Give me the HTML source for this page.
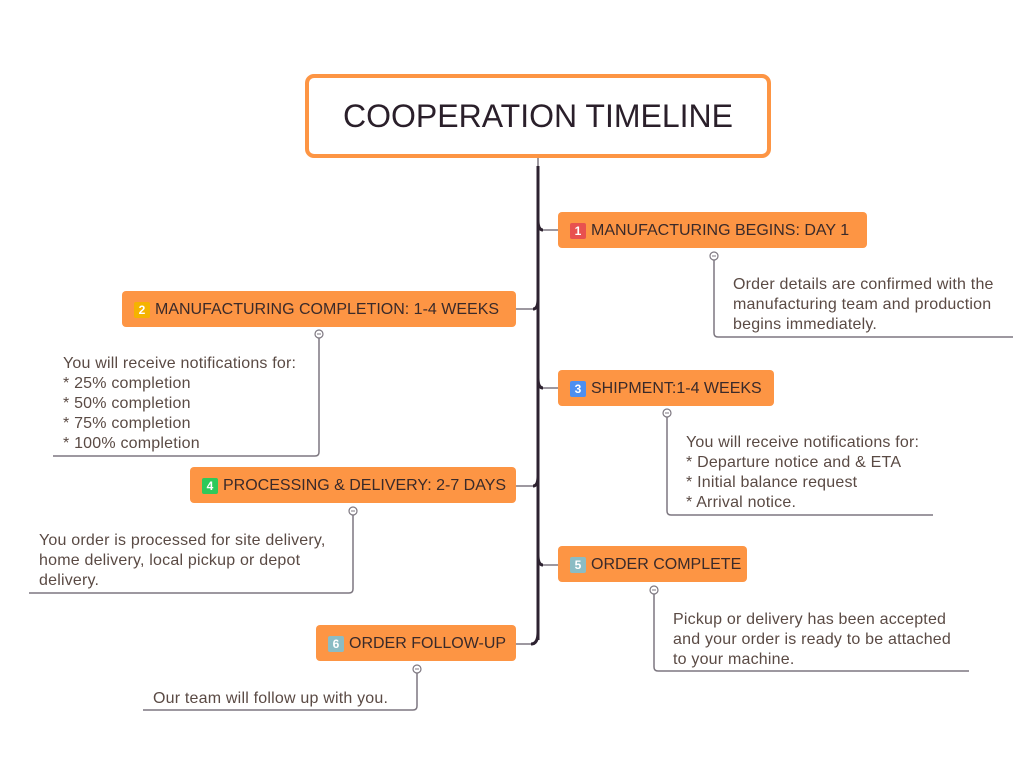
<!DOCTYPE html>
<html><head><meta charset="utf-8"><style>
body{margin:0;width:1030px;height:772px;background:#fff;position:relative;overflow:hidden;font-family:"Liberation Sans",sans-serif}
.n{position:absolute;background:#fd9544;border-radius:4px;height:36px;color:#3a2a2a;font-size:16px;white-space:nowrap;box-sizing:border-box;padding-left:12px;padding-top:2px;display:flex;align-items:center}
.b{display:inline-block;width:16px;height:16px;line-height:16px;border-radius:2px;color:#fff;font-size:12px;font-weight:bold;text-align:center;margin-right:5px}
.t{position:absolute;font-size:16px;letter-spacing:0.2px;line-height:20px;color:#5a4a44;white-space:nowrap}
</style></head><body>
<svg width="1030" height="772" style="position:absolute;left:0;top:0">
<g fill="none" stroke="#7d7780" stroke-width="1.5">
<line x1="538" y1="157" x2="538" y2="166"/>
<path d="M541 230H558M535 309H516M541 388H558M535 486H516M541 565H558M535 644H516"/>
<path d="M714 260V333q0 4 4 4H1013"/>
<path d="M319 338V452q0 4 -4 4H53"/>
<path d="M667 417V511q0 4 4 4H933"/>
<path d="M353 515V589q0 4 -4 4H29"/>
<path d="M654 594V667q0 4 4 4H969"/>
<path d="M417 673V706q0 4 -4 4H143"/>
</g>
<g fill="none" stroke="#2d2230" stroke-width="3">
<path d="M538 166V640"/>
<path d="M538 220q0 10 5 10M538 299q0 10 -5 10M538 378q0 10 5 10M538 476q0 10 -5 10M538 555q0 10 5 10M538 632q0 12 -7 12"/>
</g>
<g fill="#fff" stroke="#7d7780" stroke-width="1.2">
<circle cx="714" cy="256" r="4"/><circle cx="319" cy="334" r="4"/><circle cx="667" cy="413" r="4"/>
<circle cx="353" cy="511" r="4"/><circle cx="654" cy="590" r="4"/><circle cx="417" cy="669" r="4"/>
</g>
<g stroke="#7d7780" stroke-width="1"><path d="M712 256h4M317 334h4M665 413h4M351 511h4M652 590h4M415 669h4"/></g>
</svg>
<div style="position:absolute;left:305px;top:74px;width:466px;height:84px;box-sizing:border-box;border:4px solid #fd9544;border-radius:9px;text-align:center;line-height:76px;font-size:32px;color:#2a1f2a">COOPERATION TIMELINE</div>
<div class="n" style="left:558px;top:212px;width:309px"><span class="b" style="background:#e8514f">1</span>MANUFACTURING BEGINS: DAY 1</div>
<div class="n" style="left:122px;top:291px;width:394px"><span class="b" style="background:#f5b300">2</span>MANUFACTURING COMPLETION: 1-4 WEEKS</div>
<div class="n" style="left:558px;top:370px;width:216px"><span class="b" style="background:#4d8ff0">3</span>SHIPMENT:1-4 WEEKS</div>
<div class="n" style="left:190px;top:467px;width:326px"><span class="b" style="background:#2ec95a">4</span>PROCESSING &amp; DELIVERY: 2-7 DAYS</div>
<div class="n" style="left:558px;top:546px;width:189px"><span class="b" style="background:#8bbcc4">5</span>ORDER COMPLETE</div>
<div class="n" style="left:316px;top:625px;width:200px"><span class="b" style="background:#8bbcc4">6</span>ORDER FOLLOW-UP</div>
<div class="t" style="left:733px;top:275px">Order details are confirmed with the<br>manufacturing team and production<br>begins immediately.</div>
<div class="t" style="left:63px;top:354px">You will receive notifications for:<br>* 25% completion<br>* 50% completion<br>* 75% completion<br>* 100% completion</div>
<div class="t" style="left:686px;top:433px">You will receive notifications for:<br>* Departure notice and &amp; ETA<br>* Initial balance request<br>* Arrival notice.</div>
<div class="t" style="left:39px;top:531px">You order is processed for site delivery,<br>home delivery, local pickup or depot<br>delivery.</div>
<div class="t" style="left:673px;top:610px">Pickup or delivery has been accepted<br>and your order is ready to be attached<br>to your machine.</div>
<div class="t" style="left:153px;top:689px">Our team will follow up with you.</div>
</body></html>
